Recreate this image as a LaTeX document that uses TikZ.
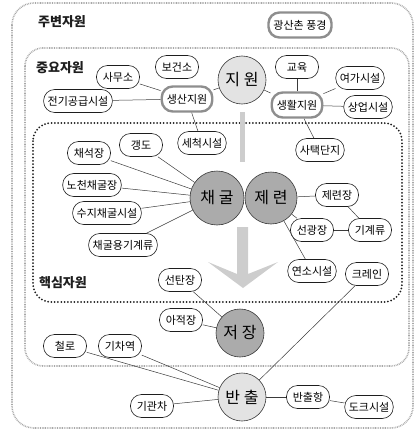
\documentclass[tikz,border=0pt]{standalone}
\usepackage{fontspec}
\usepackage{tikz}
\usetikzlibrary{positioning,backgrounds}
\newfontfamily\kr{Noto Sans CJK KR}
\definecolor{ink}{HTML}{1E1E1E}
\definecolor{ink2}{HTML}{3A3A3A}
\definecolor{keyrim}{HTML}{8E8E8E}
\definecolor{hubl}{HTML}{E3E3E3}
\definecolor{hubd}{HTML}{ABABAB}
\definecolor{flow}{HTML}{CDCDCD}
\definecolor{dotg}{HTML}{A8A8A8}
\tikzset{
  every picture/.style={line width=0.6pt,font=\kr\fontsize{11}{13}\selectfont},
  res/.style={draw=ink,fill=white,rounded corners=11pt,minimum height=23pt,minimum width=43pt,inner xsep=4pt,inner ysep=1pt},
  resk/.style={res,draw=keyrim,line width=2.4pt,minimum height=25pt,inner xsep=5pt},
  hub/.style={circle,draw=ink2,fill=hubl,inner sep=0pt,font=\kr\fontsize{16}{18}\selectfont},
  hubk/.style={hub,fill=hubd},
  ln/.style={draw=ink2,line width=0.5pt},
  grp/.style={draw=dotg,line width=1.6pt,dash pattern=on 0.8pt off 0.9pt},
  grpk/.style={draw=ink,line width=2pt,line cap=round,dash pattern=on 0pt off 3.3pt},
  ttl/.style={font=\kr\bfseries\fontsize{13}{15}\selectfont,text=ink},
}
\begin{document}
\begin{tikzpicture}[x=1pt,y=-1pt]
  \useasboundingbox (0,0) rectangle (415,431);
  % resource zones
  \draw[grp,rounded corners=22pt] (12,3) rectangle (413,428);
  \draw[grp,rounded corners=18pt] (25,48) rectangle (409,366);
  \draw[grpk,rounded corners=18pt] (33,123) rectangle (402,302);
  \node[ttl] (tout) at (62,22) {주변자원};
  \node[ttl] (tmid) at (60,68) {중요자원};
  \node[ttl] (tcore) at (63,283) {핵심자원};
  % flow
  \fill[flow] (239.5,112) rectangle (244.5,162);
  \fill[flow] (237,227) -- (248,227) -- (248,274) -- (278,262) -- (243,288)
    -- (208,262) -- (237,274) -- cycle;
  % surroundings
  \node[resk] (scene) at (300,25) {광산촌 풍경};
  % support
  \node[hub,minimum size=48pt] (sup) at (242,80) {지 원};
  \node[resk] (prod) at (187,99) {생산지원};
  \node[resk] (life) at (297,105) {생활지원};
  \node[res] (office) at (118,77) {사무소};
  \node[res] (clinic) at (177,67) {보건소};
  \node[res] (power) at (78,101) {전기공급시설};
  \node[res] (wash) at (202,143) {세척시설};
  \node[res] (edu) at (297,67) {교육};
  \node[res] (leisure) at (360,78) {여가시설};
  \node[res] (shop) at (368,107) {상업시설};
  \node[res] (house) at (320,150) {사택단지};
  % mining
  \node[hubk,minimum size=54pt] (mine) at (217,198) {채 굴};
  \node[hubk,minimum size=52pt] (smelt) at (271,198) {제 련};
  \node[res] (shaft) at (141,145) {갱도};
  \node[res] (quarry) at (89,153) {채석장};
  \node[res] (openpit) at (92,185) {노천채굴장};
  \node[res] (vert) at (107,213) {수지채굴시설};
  \node[res] (minemach) at (123,245) {채굴용기계류};
  \node[res] (smeltery) at (337,195) {제련장};
  \node[res] (dress) at (312,230) {선광장};
  \node[res] (mach) at (370,230) {기계류};
  \node[res] (furnace) at (312,271) {연소시설};
  \node[res] (crane) at (367,274) {크레인};
  % storage
  \node[hubk,minimum size=48pt] (store) at (240,333) {저 장};
  \node[res] (coalprep) at (180,280) {선탄장};
  \node[res] (yard) at (181,320) {아적장};
  % shipping
  \node[hub,minimum size=48pt] (ship) at (242,397) {반 출};
  \node[res] (rail) at (65,346) {철로};
  \node[res] (station) at (120,346) {기차역};
  \node[res] (loco) at (152,406) {기관차};
  \node[res] (port) at (308,397) {반출항};
  \node[res] (dock) at (369,407) {도크시설};
  % links
  \draw[ln] (office) -- (prod);
  \draw[ln] (power) -- (prod);
  \draw[ln] (prod) -- (sup);
  \draw[ln] (prod) -- (wash);
  \draw[ln] (sup) -- (life);
  \draw[ln] (edu) -- (life);
  \draw[ln] (leisure) -- (life);
  \draw[ln] (shop) -- (life);
  \draw[ln] (life) -- (house);
  \draw[ln] (shaft) -- (mine);
  \draw[ln] (quarry) -- (mine);
  \draw[ln] (openpit) -- (mine);
  \draw[ln] (vert) -- (mine);
  \draw[ln] (minemach) -- (mine);
  \draw[ln] (smelt) -- (smeltery);
  \draw[ln] (smelt) -- (dress);
  \draw[ln] (smelt) -- (furnace);
  \draw[ln] (smeltery) -- (mach);
  \draw[ln] (dress) -- (mach);
  \draw[ln] (coalprep) -- (store);
  \draw[ln] (yard) -- (store);
  \draw[ln] (crane) -- (ship);
  \draw[ln] (rail) -- (ship);
  \draw[ln] (station) -- (ship);
  \draw[ln] (loco) -- (ship);
  \draw[ln] (ship) -- (port);
  \draw[ln] (port) -- (dock);
\end{tikzpicture}
\end{document}
